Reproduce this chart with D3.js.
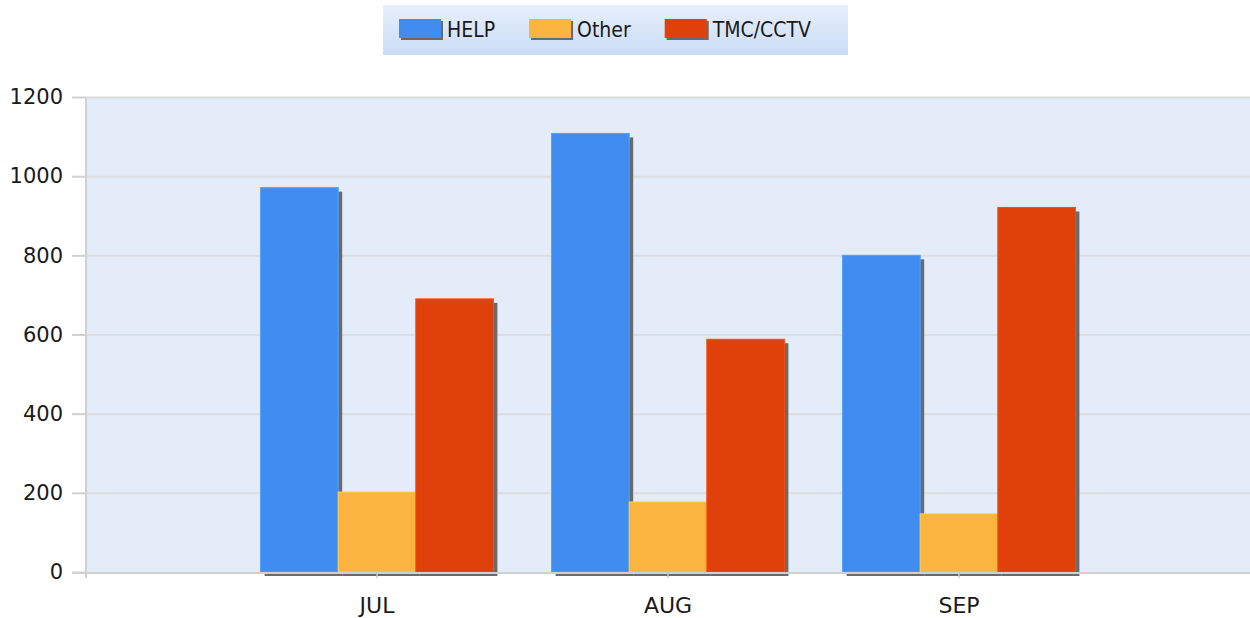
<!DOCTYPE html>
<html>
<head>
<meta charset="utf-8">
<script src="https://cdn.jsdelivr.net/npm/d3@7/dist/d3.min.js"></script>
<style>
  html, body { margin: 0; padding: 0; background: #ffffff; }
  svg { display: block; }
  text { font-family: "DejaVu Sans Condensed", "DejaVu Sans", sans-serif; font-stretch: condensed; fill: #1a1a1a; }
</style>
</head>
<body>
<svg id="chart" width="1250" height="618"></svg>
<script>
const categories = ["JUL", "AUG", "SEP"];
const seriesNames = ["HELP", "Other", "TMC/CCTV"];
const helpValues = [971, 1108, 800];
const otherValues = [202, 177, 147];
const tmcValues = [690, 588, 921];
const seriesColors = ["#418CF0", "#FCB441", "#E0400A"];
const yTicks = [0, 200, 400, 600, 800, 1000, 1200];

const seriesValues = [helpValues, otherValues, tmcValues];

const W = 1250, H = 618;
const plot = { left: 86, right: 1250, top: 97, bottom: 572 };
const svg = d3.select("#chart");

const defs = svg.append("defs");
const lg = defs.append("linearGradient").attr("id", "legendGrad").attr("x1", 0).attr("y1", 0).attr("x2", 0).attr("y2", 1);
lg.append("stop").attr("offset", "0%").attr("stop-color", "#E8EFFB");
lg.append("stop").attr("offset", "100%").attr("stop-color", "#C9DCF6");

// Scales
const y = d3.scaleLinear().domain([0, 1200]).range([plot.bottom, plot.top]);
const step = (plot.right - plot.left) / 4;
const x0 = d3.scaleBand().domain(categories)
  .range([plot.left + step / 2, plot.left + step * 3.5])
  .paddingInner(0.2).paddingOuter(0.1);
const x1 = d3.scaleBand().domain(seriesNames).range([0, x0.bandwidth()]);

// Plot background
svg.append("rect").attr("x", plot.left).attr("y", plot.top)
  .attr("width", plot.right - plot.left).attr("height", plot.bottom - plot.top)
  .attr("fill", "#E5ECF9");

// Grid lines
svg.append("g").selectAll("line").data(yTicks.filter(d => d > 0)).join("line")
  .attr("x1", plot.left).attr("x2", plot.right)
  .attr("y1", d => y(d) + 0.5).attr("y2", d => y(d) + 0.5)
  .attr("stroke", "#DADDE2").attr("stroke-width", 2);

// Y axis
const axisFont = "'DejaVu Sans', sans-serif";
const yAxis = d3.axisLeft(y).tickValues(yTicks).tickSize(14).tickPadding(9).tickFormat(d3.format("d"));
const gy = svg.append("g").attr("transform", `translate(${plot.left},0)`).call(yAxis);
gy.select(".domain").remove();
gy.selectAll(".tick line").attr("stroke", "#D0D0D0").attr("stroke-width", 2);
gy.selectAll(".tick text").attr("font-size", 21).style("font-family", axisFont).style("font-stretch", "normal").attr("fill", "#1a1a1a");
svg.append("line").attr("x1", plot.left).attr("x2", plot.left)
  .attr("y1", plot.top).attr("y2", plot.bottom + 6)
  .attr("stroke", "#D0D0D0").attr("stroke-width", 2);

// Bars with shadows
const groups = svg.append("g").selectAll("g").data(categories).join("g")
  .attr("transform", d => `translate(${x0(d)},0)`);

groups.each(function(cat, ci) {
  const g = d3.select(this);
  seriesNames.forEach((s, si) => {
    const v = seriesValues[si][ci];
    g.append("rect")
      .attr("x", x1(s) + 4).attr("y", y(v) + 4)
      .attr("width", x1.bandwidth()).attr("height", y(0) - y(v))
      .attr("fill", "#6A6A6A");
  });
  seriesNames.forEach((s, si) => {
    const v = seriesValues[si][ci];
    g.append("rect")
      .attr("x", x1(s)).attr("y", y(v))
      .attr("width", x1.bandwidth()).attr("height", y(0) - y(v))
      .attr("fill", seriesColors[si])
      .attr("stroke", d3.color(seriesColors[si]).brighter(0.4))
      .attr("stroke-width", 1);
  });
});

// X axis
svg.append("line").attr("x1", plot.left - 14).attr("x2", plot.right)
  .attr("y1", plot.bottom + 1).attr("y2", plot.bottom + 1)
  .attr("stroke", "#D0D0D0").attr("stroke-width", 2);
const xAxis = d3.axisBottom(x0).tickSize(6).tickPadding(19);
const gx = svg.append("g").attr("transform", `translate(0,${plot.bottom})`).call(xAxis);
gx.select(".domain").remove();
gx.selectAll(".tick line").attr("stroke", "#C8C8C8").attr("stroke-width", 1.5);
gx.selectAll(".tick text").attr("font-size", 22).style("font-family", axisFont).style("font-stretch", "normal").attr("fill", "#1a1a1a");

// Legend
const legend = svg.append("g");
legend.append("rect").attr("x", 383).attr("y", 5).attr("width", 465).attr("height", 50)
  .attr("fill", "url(#legendGrad)");
let lx = 399;
seriesNames.forEach((s, i) => {
  legend.append("rect").attr("x", lx + 2).attr("y", 21).attr("width", 42).attr("height", 19).attr("fill", "#6A6A6A");
  legend.append("rect").attr("x", lx).attr("y", 19).attr("width", 42).attr("height", 19).attr("fill", seriesColors[i]);
  const t = legend.append("text").attr("x", lx + 48).attr("y", 30).attr("dy", "0.35em")
    .attr("font-size", 21).text(s);
  const w = t.node().getComputedTextLength();
  lx = lx + 48 + w + 34;
});
</script>
</body>
</html>
